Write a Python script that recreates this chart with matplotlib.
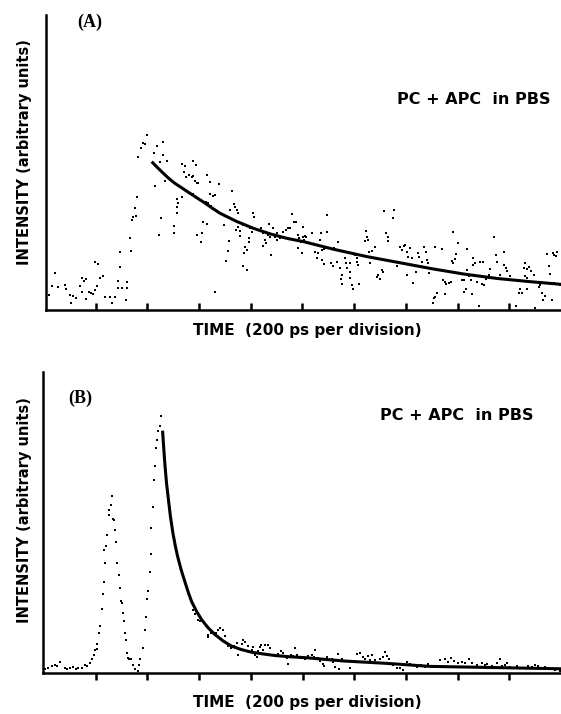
import numpy as np
import matplotlib
matplotlib.use("Agg")
from matplotlib import pyplot as plt

# ---- panel A : PC + APC in PBS, measured decay (time in ps, intensity arbitrary) ----
a_time = [20, 30, 43, 55, 81, 85, 101, 103, 113, 124, 139, 146, 148, 155, 161, 163, 175, 181,
          191, 197, 197, 204, 210, 217, 229, 236, 255, 264, 275, 285, 288, 294, 294, 301, 317,
          322, 320, 333, 335, 339, 346, 352, 355, 359, 362, 375, 384, 391, 397, 426, 430, 439,
          449, 459, 462, 468, 477, 451, 446, 503, 503,
          533, 546, 575, 588, 542, 550, 562, 571, 578, 584, 591, 597, 630, 642, 678, 575, 516,
          520, 513, 533, 516, 593, 610, 606, 617, 630, 627, 636, 642, 655, 662, 645, 697, 726,
          720, 735, 739, 746, 752, 717, 713, 704, 743, 752, 759, 759, 771, 778, 787, 774, 795,
          795, 797, 804, 810, 813, 839, 849, 855, 859, 849, 868, 872, 875, 877, 885, 894, 900,
          903, 913, 926, 937, 945, 952, 959, 968, 975, 984, 988, 984, 993, 997, 1001, 1003, 1006,
          769, 784, 662,
          1010, 1014, 1036, 1071, 1094, 1094, 1068, 1049, 1062, 1075, 1084, 1091, 1058, 1075,
          1084, 1110, 1117, 1122, 1135, 1139, 1146, 1152, 1148, 1152, 1165, 1169, 1171, 1182,
          1182, 1184, 1191, 1195, 1204, 1210, 1216, 1212, 1220, 1246, 1242, 1249, 1255, 1262,
          1259, 1268, 1281, 1288, 1291, 1298, 1307, 1311, 1316, 1329, 1324, 1332, 1349, 1355,
          1365, 1378, 1384, 1391, 1397, 1404, 1410, 1416, 1423, 1404, 1429, 1440, 1445, 1452,
          1462, 1471, 1476, 1481, 1487, 1491, 1504, 1509,
          1513, 1539, 1582, 1600, 1594, 1636, 1578, 1584, 1591, 1661, 1668, 1661, 1687, 1700,
          1543, 1552, 1565, 1574, 1556, 1616, 1623, 1633, 1625, 1651, 1646, 1655, 1638, 1675,
          1694, 1703, 1711, 1720, 1726, 1739, 1749, 1752, 1765, 1771, 1778, 1780, 1788, 1793,
          1801, 1522, 1513, 1504, 1552, 1681, 1827, 1836, 1842, 1849, 1858, 1861, 1868, 1861,
          1870, 1878, 1883, 1896, 1868, 1900, 1913, 1920, 1930, 1939, 1926, 1946, 1952, 1958,
          1965, 1969, 1974, 1981, 1984, 1974, 1997]
a_counts = [5.1, 8.1, 12.4, 7.9, 8.5, 7.0, 5.1, 2.3, 4.7, 4.2, 8.1, 10.8, 6.2, 9.9, 10.4, 3.8,
            6.0, 5.6, 5.4, 16.4, 6.8, 8.1, 15.5, 10.7, 11.5, 4.5, 4.5, 2.5, 4.5, 9.8, 7.6, 19.6,
            14.7, 7.4, 3.4, 9.6, 7.6, 24.5, 20.0, 30.5, 31.6, 34.5, 31.9, 38.2, 51.8, 54.8, 56.5,
            56.3, 59.3, 53.1, 42.1, 55.6, 50.3, 56.8, 52.5, 43.7, 50.5, 31.3, 25.4, 28.5, 26.0,
            49.5, 48.8, 50.6, 49.2, 46.9, 45.2, 45.8, 45.0, 45.4, 43.8, 43.2, 42.9, 45.8, 43.5,
            42.7, 39.3, 37.5, 36.4, 35.0, 38.2, 32.8, 25.4, 26.2, 23.2, 29.9, 29.2, 36.7, 36.4,
            39.2, 38.6, 39.0, 35.3, 28.8, 40.4, 33.9, 35.8, 35.0, 33.9, 33.0, 23.3, 20.1, 16.7,
            27.1, 28.2, 26.9, 25.1, 28.8, 21.2, 20.3, 19.2, 24.3, 23.2, 27.7, 26.5, 33.0, 31.6,
            27.7, 26.2, 23.7, 22.6, 21.7, 25.4, 29.2, 24.9, 18.6, 27.7, 24.6, 26.2, 23.7, 24.3,
            26.5, 27.1, 27.7, 27.7, 32.5, 29.9, 29.9, 25.4, 24.3, 20.9, 23.2, 19.2, 24.9, 28.1,
            23.7, 14.9, 13.6, 6.2,
            25.1, 24.9, 26.2, 26.0, 26.5, 32.2, 23.7, 19.8, 19.2, 20.3, 20.6, 20.9, 17.5, 16.9,
            15.6, 16.0, 14.9, 20.9, 16.4, 23.2, 14.1, 11.9, 10.4, 8.7, 17.5, 16.0, 14.1, 13.0,
            10.7, 16.0, 8.5, 7.0, 18.6, 16.4, 15.3, 17.5, 8.8, 26.9, 23.5, 24.9, 23.7, 16.0,
            19.8, 20.1, 21.2, 11.1, 11.9, 10.4, 13.6, 13.0, 33.7, 23.5, 26.0, 24.9, 31.1, 33.9,
            14.8, 21.2, 20.3, 21.7, 22.0, 19.8, 18.1, 20.9, 17.5, 11.9, 9.1, 13.0, 19.2, 18.1,
            16.4, 21.2, 19.8, 16.9, 16.0, 12.6, 2.3, 4.0,
            21.2, 20.6, 26.4, 22.8, 19.0, 20.6, 16.7, 15.8, 17.2, 17.5, 15.8, 15.3, 16.4, 16.4,
            10.2, 9.6, 9.1, 9.6, 8.7, 10.2, 10.2, 7.0, 6.2, 10.2, 11.5, 5.4, 13.6, 9.5,
            8.8, 8.5, 10.4, 11.9, 13.8, 24.9, 18.6, 16.4, 11.9, 10.4, 19.8, 15.3, 14.1, 13.3,
            11.5, 5.9, 4.5, 2.5, 5.4, 1.4, 1.4, 5.9, 7.0, 5.9, 14.1, 15.8, 13.8, 11.5,
            10.7, 14.5, 13.3, 11.9, 7.0, 0.6, 7.7, 8.5, 3.4, 4.7, 5.7, 19.0, 14.9, 12.2,
            3.4, 19.2, 18.6, 18.3, 19.8, 9.3, 8.5]

# fitted decay curve
a_fit_time = [421, 440, 460, 483, 507, 530, 552, 585, 617, 650, 681, 746, 810, 875, 939, 1003,
              1120, 1249, 1378, 1500, 1623, 1752, 1881, 2000]
a_fit = [49.9, 48.2, 46.5, 44.6, 42.9, 41.6, 40.3, 38.4, 36.6, 34.6, 32.8, 30.0, 27.7, 25.8,
         24.3, 23.2, 20.6, 18.1, 16.0, 14.0, 12.2, 10.7, 9.6, 8.7]

# ---- panel B : excitation pulse + fluorescence decay ----
b_time = [4, 17, 30, 43, 49, 62, 81, 88, 101, 113, 124, 133, 146, 159, 165, 178,
          184, 193, 197, 204, 206, 214, 217, 223, 229, 232, 236, 233, 240, 245, 251, 253, 258, 262,
          266, 271, 275, 278, 284, 290, 294, 297, 301, 304, 309, 313, 317, 322, 326, 330, 335,
          345, 352, 365, 369,
          371, 382, 391, 395, 400, 403, 410, 413, 414, 420, 425, 429, 433, 438, 442, 449, 451,
          578, 584, 597, 603, 625, 636, 633, 646, 664, 674, 681, 694, 700, 713, 723, 736, 749,
          745, 765, 771, 777, 788, 793, 803, 810, 816, 823, 829, 835, 839, 848, 855, 868, 874,
          894, 906, 917, 926, 932, 939, 945, 955, 964, 971, 977, 990, 1010,
          997, 1022, 1036, 1048, 1044, 1061, 1068, 1078, 1083, 1093, 1100, 1113, 1119, 1126,
          1138, 1142, 1151, 1184, 1190, 1212, 1222, 1233, 1242, 1254, 1261, 1268, 1280, 1300,
          1310, 1319, 1328, 1336, 1351, 1364, 1377, 1390, 1405, 1416, 1428, 1442, 1457, 1474,
          1486,
          1532, 1551, 1564, 1573, 1586, 1603, 1616, 1628, 1645, 1654, 1674, 1693, 1706, 1715,
          1732, 1751, 1764, 1770, 1783, 1792, 1802, 1828, 1848, 1873, 1886, 1899, 1912, 1925,
          1938, 1957, 1977, 1996]
b_counts = [1.4, 1.7, 2.3, 2.8, 2.3, 3.6, 1.7, 1.4, 1.7, 2.1, 1.2, 1.7, 1.7, 2.5, 2.3, 3.4,
            4.7, 6.1, 7.6, 8.0, 9.5, 13.3, 15.5, 21.1, 26.4, 30.1, 36.6, 40.8, 42.1, 46.0, 52.6,
            54.0, 55.9, 58.7,
            51.2, 50.7, 47.6, 43.4, 36.6, 32.7, 28.3, 23.8, 23.3, 20.0, 17.2, 13.3, 10.9, 6.7,
            5.0, 4.5, 4.5, 2.8, 1.4, 0.6, 2.5,
            4.5, 8.4, 14.4, 18.7, 24.6, 27.2, 33.5, 39.7, 48.2, 55.2, 64.2, 68.9, 74.8, 77.5,
            80.3, 82.2, 85.5,
            21.0, 19.6, 17.7, 17.2, 15.5, 12.5, 11.9, 13.3, 13.3, 14.4, 14.9, 14.4, 12.2, 8.9,
            8.3, 8.9, 6.1, 10.0, 9.6, 11.1, 10.3, 8.9, 7.2, 7.7, 8.5, 6.1, 5.2, 7.2, 8.5, 9.2,
            7.7, 9.2, 9.2, 8.3, 5.9, 6.3, 7.4, 6.6, 5.5, 5.0, 3.0, 5.9, 5.5, 8.3, 5.9, 5.0, 4.7,
            5.1, 5.5, 5.9, 7.7, 5.3, 5.1, 4.0, 3.1, 2.2, 5.3, 4.2, 4.7, 3.7, 2.0, 6.2, 1.4, 4.7,
            1.8, 3.7, 6.2, 6.6, 5.3, 4.7, 5.5, 4.2, 5.9, 4.4, 4.7, 5.3, 7.0, 5.5, 4.7, 2.6, 1.8,
            1.8, 1.1, 3.7, 3.1, 2.6, 2.0, 2.6, 2.0, 3.1,
            4.3, 4.6, 3.8, 4.9, 4.0, 3.2, 3.8, 3.2, 4.6, 3.2, 2.7, 3.2, 2.7, 2.9, 2.4, 3.2, 4.6,
            2.4, 2.7, 3.2, 2.1, 2.4, 1.6, 2.4, 2.1, 2.7, 2.4, 1.8, 2.1, 1.3, 1.0, 0.7]

b_fit_time = [459, 463, 468, 474, 481, 489, 498, 507, 516, 530, 545, 558, 571, 590, 610, 635,
              661, 692, 726, 763, 803, 850, 894, 950, 1010, 1158, 1326, 1493, 1745, 2000]
b_fit = [80.0, 74.8, 68.9, 63.0, 57.8, 52.0, 46.8, 42.6, 39.0, 34.4, 30.3, 26.8, 23.7, 20.5,
         17.7, 15.0, 12.8, 10.7, 8.9, 7.8, 6.9, 6.3, 5.8, 5.4, 5.1, 4.0, 3.2, 2.2, 1.8, 1.4]

tick_times = [200, 400, 600, 800, 1000, 1200, 1400, 1600, 1800]

W, H = 561, 714
fig = plt.figure(figsize=(W / 100, H / 100), dpi=100)

def setup(ax, tickdir, xmin):
    ax.set_xlim(xmin, 2000)
    ax.set_ylim(0, 100)
    for s in ['top', 'right']:
        ax.spines[s].set_visible(False)
    for s in ['left', 'bottom']:
        ax.spines[s].set_linewidth(1.8)
    ax.set_xticks(tick_times)
    ax.set_xticklabels([])
    ax.set_yticks([])
    ax.tick_params(axis='x', direction=tickdir, length=5, width=1.8)

# panel A
axA = fig.add_axes([46 / W, 1 - 310 / H, 515 / W, 295 / H])
setup(axA, 'in', 8)
axA.plot(a_time, a_counts, 's', color='black', markersize=1.9, markeredgewidth=0)
axA.plot(a_fit_time, a_fit, color='black', lw=2.2, solid_joinstyle='round')

# panel B
axB = fig.add_axes([43 / W, 1 - 673 / H, 518 / W, 301 / H])
setup(axB, 'out', -4)
axB.plot(b_time, b_counts, 's', color='black', markersize=1.9, markeredgewidth=0)
axB.plot(b_fit_time, b_fit, color='black', lw=2.2, solid_joinstyle='round')

# labels
for ylab_y, xl_y, tag, tag_xy, txt_xy in [
        (152, 331, '(A)', (77, 22), (397, 100)),
        (510, 703, '(B)', (68, 398), (380, 416))]:
    fig.text(25 / W, 1 - ylab_y / H, 'INTENSITY (arbitrary units)', rotation=90,
             ha='center', va='center', fontsize=10.5, fontweight='bold')
    fig.text(307 / W, 1 - xl_y / H, 'TIME  (200 ps per division)',
             ha='center', va='center', fontsize=11, fontweight='bold')
    fig.text(tag_xy[0] / W, 1 - tag_xy[1] / H, tag, ha='left', va='center',
             fontsize=13, fontweight='bold', family='Liberation Serif')
    fig.text(txt_xy[0] / W, 1 - txt_xy[1] / H, 'PC + APC  in PBS', ha='left', va='center',
             fontsize=11.5, fontweight='bold')

fig.savefig('out.png', dpi=100, facecolor='white')
